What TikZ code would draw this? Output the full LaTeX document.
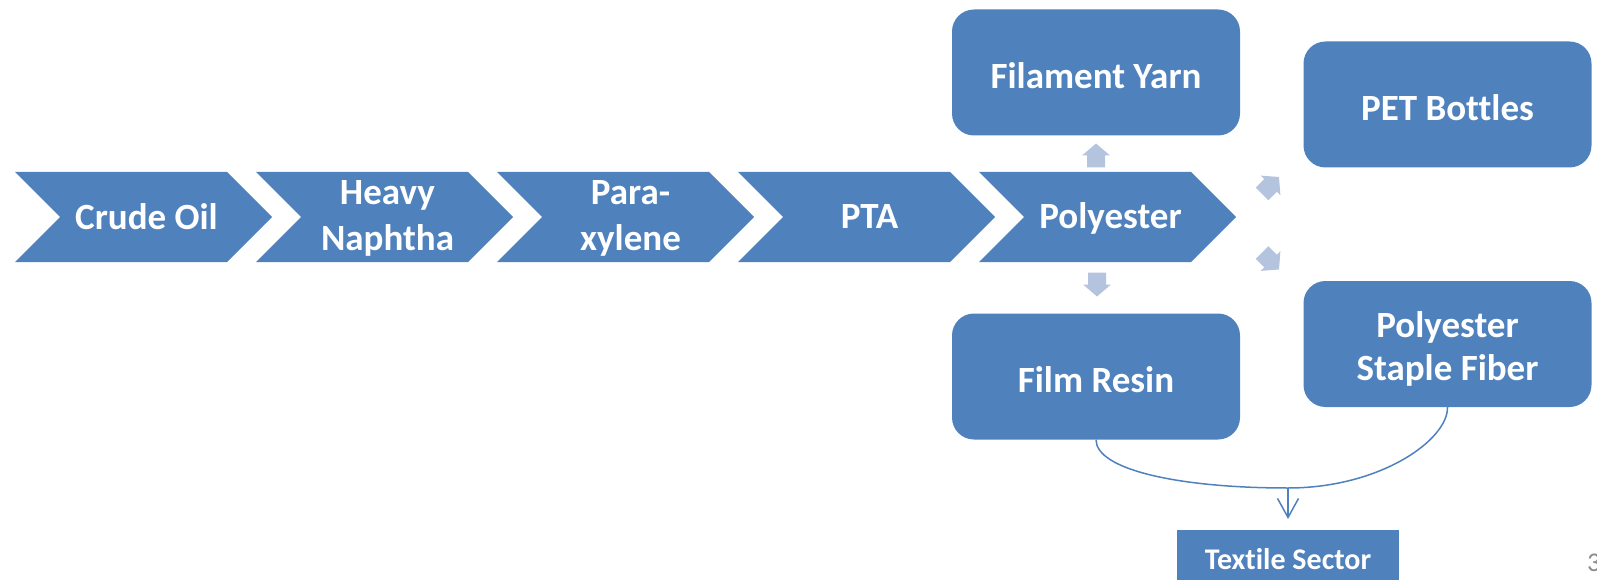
\documentclass[tikz,border=0pt]{standalone}
\usepackage{fontspec}
\setmainfont{Carlito}[Ligatures={NoCommon}]
\usetikzlibrary{arrows.meta}
\definecolor{mainblue}{HTML}{4F81BD}
\definecolor{lightarr}{HTML}{B4C4DF}
\definecolor{pagegray}{HTML}{8C8C8C}
\newcommand\mychevron[1]{%
  \fill[mainblue] (#1,172) -- ++(212,0) -- ++(45,45) -- ++(-45,45) -- ++(-212,0) -- ++(45,-45) -- cycle;}
\newcommand\blkarrow[3]{%
  \fill[lightarr, shift={(#1,#2)}, rotate=#3] (-12,-9) -- (0,-9) -- (0,-14) -- (12,0) -- (0,14) -- (0,9) -- (-12,9) -- cycle;}
\begin{document}
\begin{tikzpicture}[x=1pt,y=-1pt,
  chevtext/.style={text=white, font=\fontsize{37}{46}\selectfont\bfseries, align=center, inner sep=0pt},
  rbox/.style={fill=mainblue, rounded corners=22pt, minimum width=288pt, minimum height=126pt, inner sep=0pt},
  boxtext/.style={text=white, font=\fontsize{37}{43}\selectfont\bfseries, align=center, inner sep=0pt},
  conn/.style={draw=mainblue, line width=1.5pt},
  tsbox/.style={fill=mainblue, text=white, font=\fontsize{30}{33}\selectfont\bfseries,
     minimum width=222pt, minimum height=58pt, inner sep=0pt}]
\useasboundingbox (0,0) rectangle (1597,580);
\clip (0,0) rectangle (1597,580);
% chevrons
\mychevron{15}
\mychevron{256}
\mychevron{497}
\mychevron{738}
\mychevron{979}
\node[chevtext] (c1) at (146.5,217) {Crude Oil};
\node[chevtext] (c2) at (387.5,218) {Heavy\\Naphtha};
\node[chevtext] (c3) at (630.5,218) {Para-\\xylene};
\node[chevtext] (c4) at (869.5,217) {PTA};
\node[chevtext] (c5) at (1110.5,218) {Polyester};
% rounded boxes
\node[rbox] (fy) at (1096,72.5) {};
\node[rbox] (pet) at (1447.5,104.5) {};
\node[rbox] (fr) at (1096,376.5) {};
\node[rbox] (psf) at (1447.5,344) {};
\node[boxtext] (fyt) at ([yshift=-3pt]fy.center) {Filament Yarn};
\node[boxtext] (pett) at ([yshift=-3pt]pet.center) {PET Bottles};
\node[boxtext] (frt) at ([yshift=-3pt]fr.center) {Film Resin};
\node[boxtext] (psft) at ([yshift=-5pt]psf.center) {Polyester\\Staple Fiber};
% small block arrows
\blkarrow{1096}{155.5}{90}
\blkarrow{1097}{284.5}{-90}
\blkarrow{1270.5}{185.5}{45}
\blkarrow{1270.5}{261}{-45}
% textile sector
\node[tsbox, anchor=north] (ts) at (1288,530) {Textile Sector\hspace{22pt}};
\draw[conn] (fr.south) .. controls (1096,470) and (1180,488) .. (1288,488) coordinate (jn)
  .. controls (1380,488) and (1448,440) .. (psf.south);
\draw[conn, -{Straight Barb[length=19pt,width=21pt]}, shorten >=11pt] (jn) -- (ts.north);
% page number
\node[anchor=west, text=pagegray, font=\fontsize{27}{30}\selectfont, inner sep=0pt] (pg) at (1587,563) {3};
\end{tikzpicture}
\end{document}
